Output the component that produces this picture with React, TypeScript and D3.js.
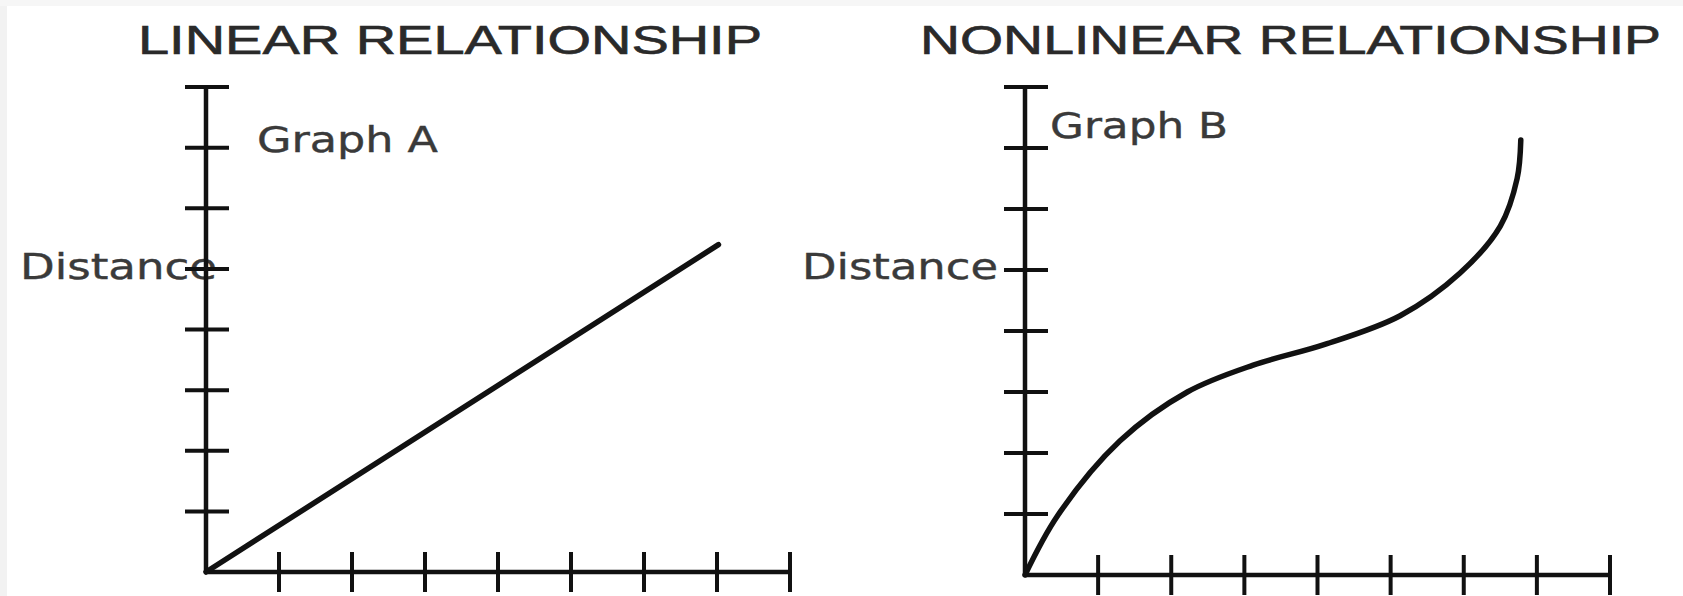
import React from "react";
import * as d3 from "d3";

// ---- data ----
const titles = ["LINEAR RELATIONSHIP", "NONLINEAR RELATIONSHIP"];
const graphLabels = ["Graph A", "Graph B"];
const yAxisLabel = "Distance";
const xTickValues = [1, 2, 3, 4, 5, 6, 7, 8];
const yTickValues = [1, 2, 3, 4, 5, 6, 7, 8];
const axisMax = 8;

// Graph A: straight line
const linearX = [0, 7.02];
const linearY = [0, 5.4];

// Graph B: S-shaped curve
const curveX = [0, 0.45, 1.3, 2.22, 3.12, 4.1, 5.13, 5.95, 6.5, 6.73, 6.78];
const curveY = [0, 0.98, 2.2, 3.0, 3.44, 3.78, 4.25, 4.95, 5.72, 6.5, 7.13];

const W = 1683;
const H = 596;

type Panel = {
  x0: number; x1: number; y0: number; y1: number;
  title: { x: number; w: number; y: number };
  graph: { x: number; w: number; y: number };
  dist: { x: number; w: number; y: number };
};

const panels: Panel[] = [
  {
    x0: 206, x1: 790, y0: 572, y1: 87,
    title: { x: 138, w: 624, y: 54 },
    graph: { x: 257, w: 181, y: 152 },
    dist: { x: 20, w: 197, y: 279 },
  },
  {
    x0: 1025, x1: 1610, y0: 575, y1: 87,
    title: { x: 920, w: 741, y: 54 },
    graph: { x: 1050, w: 178, y: 138 },
    dist: { x: 802, w: 196, y: 279 },
  },
];

function Axes({ p }: { p: Panel }) {
  const x = d3.scaleLinear().domain([0, axisMax]).range([p.x0, p.x1]);
  const y = d3.scaleLinear().domain([0, axisMax]).range([p.y0, p.y1]);
  return (
    <g stroke="#111" fill="none">
      <line x1={x(0)} y1={y(0)} x2={x(0)} y2={y(axisMax)} strokeWidth={4.5} />
      <line x1={x(0)} y1={y(0)} x2={x(axisMax)} y2={y(0)} strokeWidth={4.5} />
      {yTickValues.map((v) => (
        <line key={"y" + v} x1={x(0) - 21} x2={x(0) + 23} y1={y(v)} y2={y(v)} strokeWidth={4} />
      ))}
      {xTickValues.map((v) => (
        <line key={"x" + v} x1={x(v)} x2={x(v)} y1={y(0) - 20} y2={y(0) + 20} strokeWidth={4} />
      ))}
    </g>
  );
}

function Texts({ p, i }: { p: Panel; i: number }) {
  return (
    <g>
      <text
        x={p.title.x}
        y={p.title.y}
        fontFamily="Liberation Sans, Arial, sans-serif"
        fontSize={40}
        fill="#2a2a2a"
        stroke="#2a2a2a"
        strokeWidth={0.6}
        textLength={p.title.w}
        lengthAdjust="spacingAndGlyphs"
      >
        {titles[i]}
      </text>
      <text
        x={p.graph.x}
        y={p.graph.y}
        fontFamily="DejaVu Sans, Verdana, sans-serif"
        fontSize={35}
        fill="#3a3a3a"
        stroke="#3a3a3a"
        strokeWidth={0.4}
        textLength={p.graph.w}
        lengthAdjust="spacingAndGlyphs"
      >
        {graphLabels[i]}
      </text>
      <text
        x={p.dist.x}
        y={p.dist.y}
        fontFamily="DejaVu Sans, Verdana, sans-serif"
        fontSize={35}
        fill="#3a3a3a"
        stroke="#3a3a3a"
        strokeWidth={0.4}
        textLength={p.dist.w}
        lengthAdjust="spacingAndGlyphs"
      >
        {yAxisLabel}
      </text>
    </g>
  );
}

export default function App() {
  const pA = panels[0];
  const pB = panels[1];
  const xA = d3.scaleLinear().domain([0, axisMax]).range([pA.x0, pA.x1]);
  const yA = d3.scaleLinear().domain([0, axisMax]).range([pA.y0, pA.y1]);
  const xB = d3.scaleLinear().domain([0, axisMax]).range([pB.x0, pB.x1]);
  const yB = d3.scaleLinear().domain([0, axisMax]).range([pB.y0, pB.y1]);

  const ptsA = linearX.map((v, k) => [v, linearY[k]] as [number, number]);
  const ptsB = curveX.map((v, k) => [v, curveY[k]] as [number, number]);

  const lineA = d3
    .line<[number, number]>()
    .x((d) => xA(d[0]))
    .y((d) => yA(d[1]));
  const lineB = d3
    .line<[number, number]>()
    .x((d) => xB(d[0]))
    .y((d) => yB(d[1]))
    .curve(d3.curveCatmullRom.alpha(0.5));

  return (
    <svg
      width={W}
      height={H}
      viewBox={`0 0 ${W} ${H}`}
      style={{ position: "absolute", left: 0, top: 0, background: "#fff" }}
    >
      <rect x={0} y={0} width={W} height={H} fill="#ffffff" />
      <rect x={0} y={0} width={7} height={H} fill="#f2f2f2" />
      <rect x={0} y={0} width={W} height={6} fill="#f6f6f6" />
      {panels.map((p, i) => (
        <g key={i}>
          <Texts p={p} i={i} />
          <Axes p={p} />
        </g>
      ))}
      <path d={lineA(ptsA) || ""} fill="none" stroke="#111" strokeWidth={5.5} strokeLinecap="round" />
      <path d={lineB(ptsB) || ""} fill="none" stroke="#111" strokeWidth={5.5} strokeLinecap="round" />
    </svg>
  );
}
